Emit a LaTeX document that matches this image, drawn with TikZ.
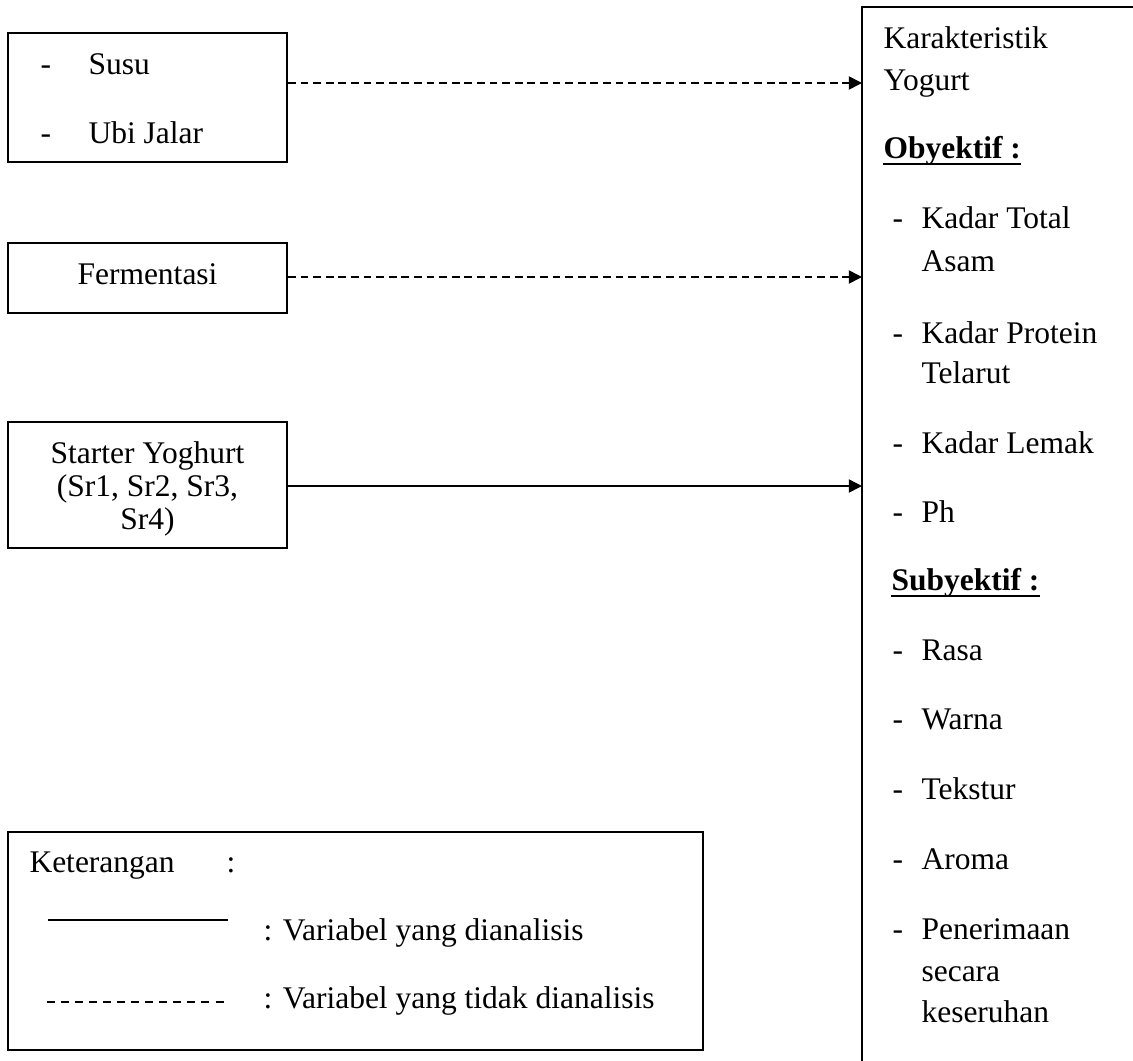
\documentclass[tikz,border=0pt]{standalone}
\usepackage{fontspec}
\setmainfont{Liberation Serif}
\usetikzlibrary{arrows.meta,calc}
\begin{document}
\begin{tikzpicture}[x=0.381pt,y=-0.381pt,
  box/.style={draw, line width=0.75pt, inner sep=0pt},
  txt/.style={inner sep=0pt, anchor=base west, font=\fontsize{12}{14}\selectfont},
  ctxt/.style={inner sep=0pt, anchor=base, font=\fontsize{12}{14}\selectfont},
  conn/.style={line width=0.6pt, -{Triangle[length=5pt,width=5pt]}},
  dashconn/.style={conn, dash pattern=on 3pt off 1.8pt},
  uline/.style={line width=0.9pt}
]
\useasboundingbox (0,0) rectangle (1133,1061);

% left boxes
\node[box, minimum width=279*0.381pt, minimum height=129*0.381pt] (b1) at (147.5,97.5) {};
\node[box, minimum width=279*0.381pt, minimum height=70*0.381pt] (b2) at (147.5,278) {};
\node[box, minimum width=279*0.381pt, minimum height=126*0.381pt] (b3) at (147.5,485) {};

% box 1 text
\node[txt] (d1) at (40,74) {-};
\node[txt] (susu) at (88,74) {Susu};
\node[txt] (d2) at (40,143) {-};
\node[txt] (ubi) at (88,143) {Ubi Jalar};
% box 2 text
\node[ctxt] (ferm) at (147.5,284) {Fermentasi};
% box 3 text
\node[ctxt] (st1) at (147.5,463) {Starter Yoghurt};
\node[ctxt] (st2) at (147.5,496) {(Sr1, Sr2, Sr3,};
\node[ctxt] (st3) at (147.5,529) {Sr4)};

% right box
\draw[line width=0.75pt] (1145,7) -- (862,7) -- (862,1075);
\coordinate (t1) at (862,83);
\coordinate (t2) at (862,277);
\coordinate (t3) at (862,486);

% connectors
\draw[dashconn] (t1 -| b1.east) -- (t1);
\draw[dashconn] (t2 -| b2.east) -- (t2);
\draw[conn] (t3 -| b3.east) -- (t3);

% right box text
\node[txt] (k1) at (883,48) {Karakteristik};
\node[txt] (k2) at (883,90) {Yogurt};
\node[txt] (obj) at (883,158) {\bfseries Obyektif :};
\draw[uline] ($(obj.base west)+(0,6)$) -- ($(obj.base east)+(0,6)$);

\node[txt] (r1d) at (892,228) {-};
\node[txt] (r1) at (921,228) {Kadar Total};
\node[txt] (r1b) at (921,271) {Asam};
\node[txt] (r2d) at (892,343) {-};
\node[txt] (r2) at (921,343) {Kadar Protein};
\node[txt] (r2b) at (921,383) {Telarut};
\node[txt] (r3d) at (892,453) {-};
\node[txt] (r3) at (921,453) {Kadar Lemak};
\node[txt] (r4d) at (892,522) {-};
\node[txt] (r4) at (921,522) {Ph};

\node[txt] (sub) at (891,590) {\bfseries Subyektif :};
\draw[uline] ($(sub.base west)+(0,6)$) -- ($(sub.base east)+(0,6)$);

\node[txt] (s1d) at (892,660) {-};
\node[txt] (s1) at (921,660) {Rasa};
\node[txt] (s2d) at (892,729) {-};
\node[txt] (s2) at (921,729) {Warna};
\node[txt] (s3d) at (892,799) {-};
\node[txt] (s3) at (921,799) {Tekstur};
\node[txt] (s4d) at (892,869) {-};
\node[txt] (s4) at (921,869) {Aroma};
\node[txt] (s5d) at (892,939) {-};
\node[txt] (s5) at (921,939) {Penerimaan};
\node[txt] (s5b) at (921,981) {secara};
\node[txt] (s5c) at (921,1022) {keseruhan};

% legend
\node[box, minimum width=695*0.381pt, minimum height=218*0.381pt] (leg) at (355.5,941) {};
\node[txt] (ket) at (29,872) {Keterangan};
\node[txt] (ketc) at (226,872) {:};
\coordinate (ls1) at (48,920);
\coordinate (ls2) at (228,920);
\draw[line width=0.7pt] (ls1) -- (ls2);
\coordinate (ld1) at (47,1002);
\coordinate (ld2) at (224,1002);
\draw[line width=0.9pt, dash pattern=on 3.05pt off 2.3pt] (ld1) -- (ld2);
\node[txt] (lt1) at (263,940) {: Variabel yang dianalisis};
\node[txt] (lt2) at (263,1008) {: Variabel yang tidak dianalisis};
\end{tikzpicture}
\end{document}
